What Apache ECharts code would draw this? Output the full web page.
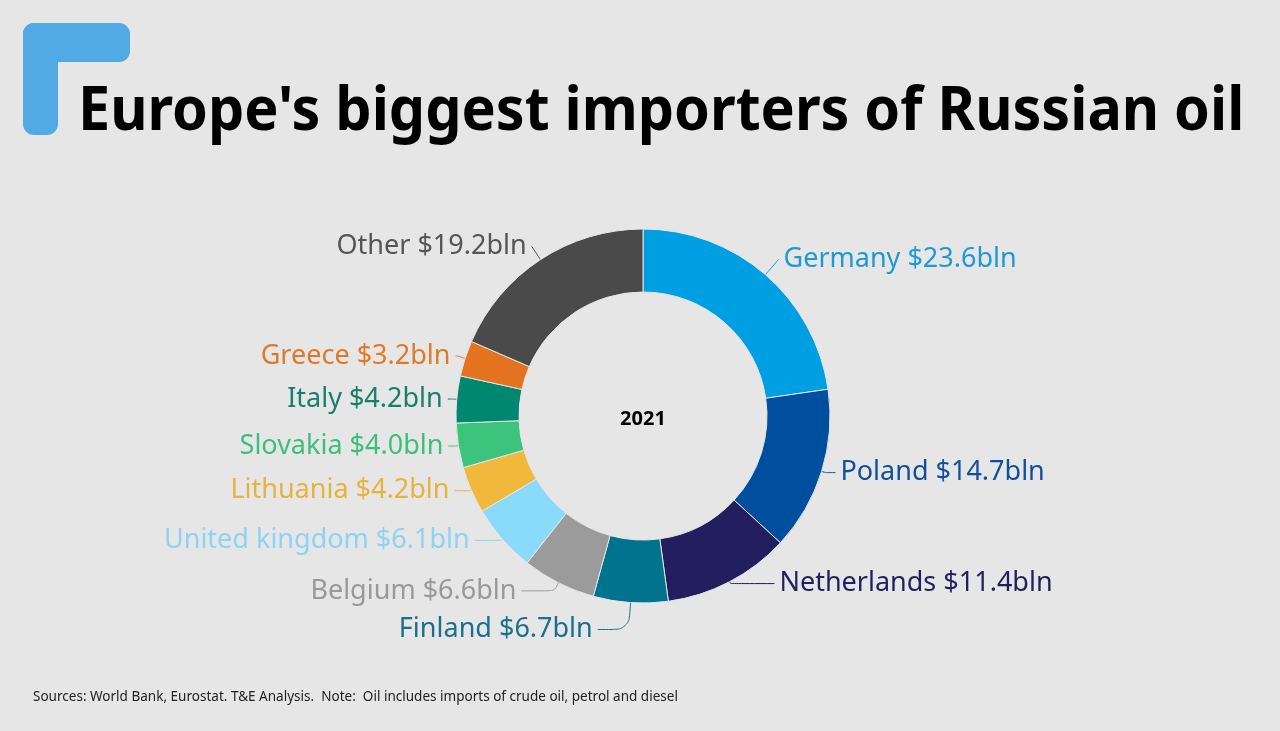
<!DOCTYPE html>
<html><head><meta charset="utf-8">
<script src="https://cdn.jsdelivr.net/npm/echarts@6/dist/echarts.min.js"></script>
<style>html,body{margin:0;padding:0;background:#e6e6e6;}#c{width:1280px;height:731px;}</style>
</head><body><div id="c"></div>
<script>
var countries = ['Germany','Poland','Netherlands','Finland','Belgium','United kingdom','Lithuania','Slovakia','Italy','Greece','Other'];
var values = [23.6,14.7,11.4,6.7,6.6,6.1,4.2,4.0,4.2,3.2,19.2];
var colors = ['#009fe3','#004f9e','#231f5e','#00738f','#9b9b9b','#8adaf9','#f0b83c','#3cc47c','#00876f','#e3731f','#4a4a4a'];
var labelColors = ['#1d9ad6','#124f9a','#231f5e','#1b6f8c','#999999','#8fd3f3','#e8b23e','#3cbf7c','#16806c','#de7a28','#555555'];
var lineLen1 = [20,4,2,27,9,2,2,3,3,8,16];
var lineLen2 = [0,10,44,31,33,26,15,7,6,2,0];
var yearLabel = '2021';
var titleText = "Europe's biggest importers of Russian oil";
var sourceText = 'Sources: World Bank, Eurostat. T&E Analysis.  Note:  Oil includes imports of crude oil, petrol and diesel';

var chart = echarts.init(document.getElementById('c'));
var data = countries.map(function(n,i){
  return {name:n, value:values[i], itemStyle:{color:colors[i]},
    label:{color:labelColors[i]},
    labelLine:{length:lineLen1[i], length2:lineLen2[i], lineStyle:{color:labelColors[i]}}};
});
chart.setOption({
  backgroundColor:'#e6e6e6',
  graphic:[
    {type:'rect', shape:{x:23,y:23,width:35,height:112,r:[11,0,11,11]}, style:{fill:'#51aae3'}},
    {type:'rect', shape:{x:23,y:23,width:107,height:39,r:[11,11,11,0]}, style:{fill:'#51aae3'}},
    {type:'text', x:78, y:82, scaleX:0.942, style:{text:titleText, font:'bold 61px "Noto Sans"', fill:'#000', textVerticalAlign:'top'}},
    {type:'text', x:33, y:697, scaleX:0.933, style:{text:sourceText, font:'14.5px "Noto Sans"', fill:'#222', textVerticalAlign:'middle'}},
    {type:'text', x:643, y:419, style:{text:yearLabel, font:'bold 20px "Noto Sans"', fill:'#000', textAlign:'center', textVerticalAlign:'middle'}}
  ],
  series:[{
    type:'pie',
    center:[643,416],
    radius:[124,187],
    startAngle:90,
    clockwise:true,
    itemStyle:{borderColor:'#e6e6e6', borderWidth:1},
    label:{show:true, position:'outside', formatter:function(p){return p.name+' $'+p.value.toFixed(1)+'bln';},
      fontFamily:'Noto Sans', fontSize:27},
    labelLine:{show:true, smooth:0.3, lineStyle:{width:1}},
    data:data
  }]
});
</script></body></html>
